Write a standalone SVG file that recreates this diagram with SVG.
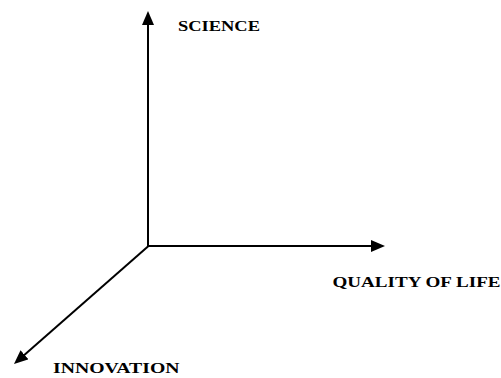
<svg xmlns="http://www.w3.org/2000/svg" width="501" height="378" viewBox="0 0 501 378">
<style>
.axis{stroke:#000;stroke-width:2;fill:none;marker-end:url(#arr);}
.lbl{font-family:"Liberation Serif","Times New Roman",serif;font-weight:bold;font-size:14px;fill:#000;}
</style>
<defs>
<marker id="arr" markerUnits="userSpaceOnUse" markerWidth="16" markerHeight="14" refX="6" refY="6" orient="auto">
<path d="M0,0 L14,6 L0,12 z" fill="#000"/>
</marker>
</defs>
<rect width="501" height="378" fill="#fff"/>
<g id="connectors">
<line class="axis" x1="148" y1="247" x2="148" y2="19"/>
<line class="axis" x1="147" y1="246" x2="377" y2="246"/>
<line class="axis" x1="148.5" y1="246" x2="20" y2="358.7"/>
</g>
<g id="science"><text class="lbl" x="178" y="30.5" textLength="82" lengthAdjust="spacingAndGlyphs">SCIENCE</text></g>
<g id="quality"><text class="lbl" x="332.5" y="287" textLength="168" lengthAdjust="spacingAndGlyphs">QUALITY OF LIFE</text></g>
<g id="innovation"><text class="lbl" x="53" y="372.5" textLength="126.5" lengthAdjust="spacingAndGlyphs">INNOVATION</text></g>
</svg>
